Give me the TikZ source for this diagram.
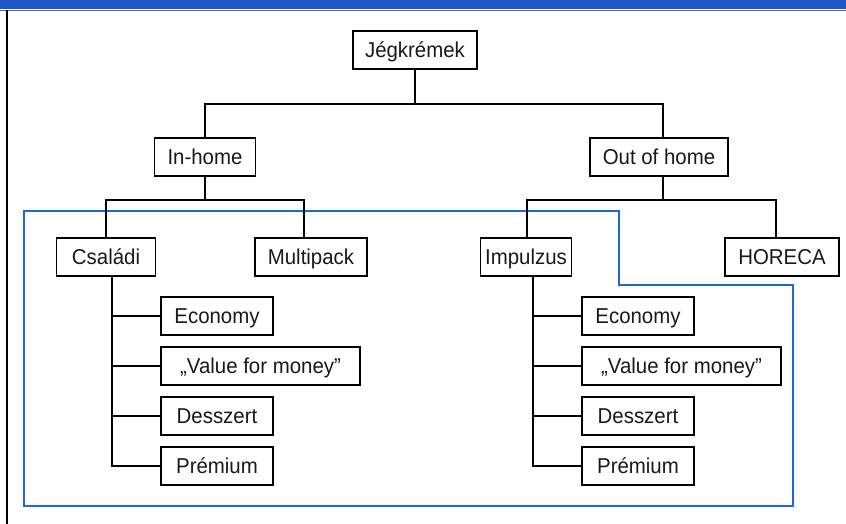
\documentclass[tikz,border=0pt]{standalone}
\usepackage{fontspec}
\setmainfont{Liberation Sans}[FakeStretch=0.95]
\definecolor{barblue}{RGB}{28,88,196}
\definecolor{lineblue}{RGB}{30,105,215}
\begin{document}
\begin{tikzpicture}[x=1pt,y=-1pt,
  box/.style={draw=black,line width=1.1pt,fill=white,rectangle,minimum height=38pt,inner sep=0pt,
    text height=15.5pt,text depth=0pt,
    font=\fontsize{21.5}{25}\selectfont,text=black!90},
  conn/.style={draw=black,line width=1.4pt},
  frameline/.style={draw=lineblue,line width=2.2pt}]
\useasboundingbox (0,0) rectangle (846,524);
% top bar and left border
\fill[barblue] (0,0) rectangle (846,9);
\draw[black!60,line width=0.8pt] (0,10) -- (846,10);
\draw[black,line width=1.4pt] (7,10) -- (7,524);
% blue frame
\draw[frameline] (24,211) -- (619,211) -- (619,285) -- (793,285) -- (793,506) -- (24,506) -- cycle;
% nodes
\node[box,minimum width=124pt] (jeg) at (415,50) {Jégkrémek};
\node[box,minimum width=101pt] (inh) at (205,157) {In-home};
\node[box,minimum width=138pt] (outh) at (659,157) {Out of home};
\node[box,minimum width=99pt] (csal) at (106,257) {Családi};
\node[box,minimum width=112pt] (multi) at (311,257) {Multipack};
\node[box,minimum width=91pt] (imp) at (526,257) {Impulzus};
\node[box,minimum width=114pt] (hor) at (782,257) {HORECA};
\node[box,minimum width=112pt] (ecoL) at (217,316) {Economy};
\node[box,minimum width=199pt] (valL) at (260.5,366) {„Value for money”};
\node[box,minimum width=112pt] (desL) at (217,416) {Desszert};
\node[box,minimum width=112pt] (preL) at (217,466) {Prémium};
\node[box,minimum width=112pt] (ecoR) at (638,316) {Economy};
\node[box,minimum width=199pt] (valR) at (681.5,366) {„Value for money”};
\node[box,minimum width=112pt] (desR) at (638,416) {Desszert};
\node[box,minimum width=112pt] (preR) at (638,466) {Prémium};
% connectors
\coordinate (t1) at (415,104);
\coordinate (t2) at (205,200);
\coordinate (t3) at (663,200);
\draw[conn] (jeg.south) -- (t1);
\draw[conn] (t1) -| (inh.north);
\draw[conn] (t1) -| ([xshift=4pt]outh.north);
\draw[conn] (inh.south) -- (t2);
\draw[conn] (t2) -| (csal.north);
\draw[conn] (t2) -| ([xshift=-7pt]multi.north);
\draw[conn] ([xshift=4pt]outh.south) -- (t3);
\draw[conn] (t3) -| ([xshift=1pt]imp.north);
\draw[conn] (t3) -| ([xshift=-6pt]hor.north);
\foreach \n in {ecoL,valL,desL,preL}{
  \draw[conn] ([xshift=6pt]csal.south) |- (\n.west);
}
\foreach \n in {ecoR,valR,desR,preR}{
  \draw[conn] ([xshift=7pt]imp.south) |- (\n.west);
}
\end{tikzpicture}
\end{document}
